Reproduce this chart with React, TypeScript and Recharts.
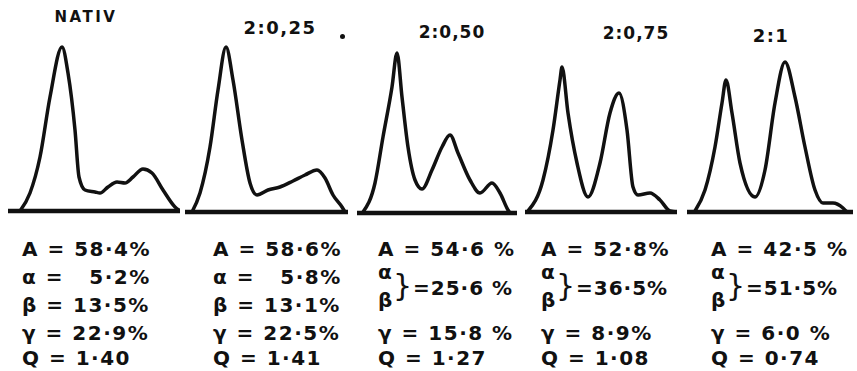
import { LineChart, Line, XAxis, YAxis, ReferenceLine } from "recharts";

// Densitometer curves, migration position (px from strip start) vs. optical density
const nativPos = [12, 22, 32, 42, 54, 60, 67, 71, 77, 87, 92, 100, 109, 117, 125, 135, 144, 155, 167, 172];
const nativDens = [0, 18, 54, 114, 164, 138, 81, 34, 21, 19, 18, 24, 29, 28, 34, 42, 38, 21, 4, 0];

const r025Pos = [7, 15, 25, 33, 41, 48, 57, 65, 72, 83, 95, 108, 120, 132, 140, 148, 157, 160];
const r025Dens = [0, 19, 65, 122, 165, 132, 72, 29, 17, 22, 25, 31, 37, 42, 34, 17, 5, 0];

const r050Pos = [6, 18, 26, 35, 40, 45, 51, 58, 65, 75, 85, 93, 101, 113, 123, 135, 143, 151, 153];
const r050Dens = [1, 30, 76, 126, 160, 116, 66, 33, 24, 43, 66, 78, 60, 33, 20, 30, 20, 3, 0];

const r075Pos = [3, 18, 28, 35, 37, 43, 52, 63, 75, 85, 94, 102, 108, 113, 125, 135, 145, 152];
const r075Dens = [1, 32, 82, 132, 145, 99, 49, 15, 49, 99, 119, 82, 25, 17, 19, 12, 1, 0];

const r1Pos = [8, 18, 28, 35, 39, 45, 53, 68, 78, 88, 98, 108, 118, 128, 136, 146, 156, 160];
const r1Dens = [1, 22, 65, 109, 132, 99, 49, 15, 42, 109, 150, 115, 65, 22, 9, 9, 4, 0];

const titles = ["NATIV", "2:0,25", "2:0,50", "2:0,75", "2:1"];
const albumin = ["58·4%", "58·6%", "54·6 %", "52·8%", "42·5 %"];
const alpha = ["5·2%", "5·8%", "", "", ""];
const beta = ["13·5%", "13·1%", "", "", ""];
const alphaBeta = ["", "", "25·6 %", "36·5%", "51·5%"];
const gamma = ["22·9%", "22·5%", "15·8 %", "8·9%", "6·0 %"];
const quotient = ["1·40", "1·41", "1·27", "1·08", "0·74"];

const curves = [
  [nativPos, nativDens],
  [r025Pos, r025Dens],
  [r050Pos, r050Dens],
  [r075Pos, r075Dens],
  [r1Pos, r1Dens],
].map(([xs, ys]) => xs.map((x, i) => ({ x, y: ys[i] })));

// layout only
const panels = [
  { left: 8, width: 172, base: 211, titleX: 86, titleY: 17, titleSize: 15, titleSpacing: 2.5, textX: 22 },
  { left: 185, width: 163, base: 212, titleX: 280, titleY: 28, titleSize: 18, titleSpacing: 1.5, textX: 213 },
  { left: 357, width: 160, base: 213, titleX: 452, titleY: 32, titleSize: 17, titleSpacing: 1, textX: 378 },
  { left: 525, width: 152, base: 212, titleX: 636, titleY: 33, titleSize: 17, titleSpacing: 1, textX: 541 },
  { left: 687, width: 166, base: 212, titleX: 771, titleY: 36, titleSize: 18, titleSpacing: 1.5, textX: 711 },
];

const H = 170;
const rowY = [249, 277, 305, 333, 358];
const font = "'DejaVu Sans', sans-serif";

const txt = (x: number, y: number, s: string, size = 20, extra = {}) => (
  <div
    style={{
      position: "absolute",
      left: x,
      top: y - size / 2,
      fontSize: size,
      fontWeight: 700,
      letterSpacing: 1.5,
      whiteSpace: "pre",
      lineHeight: 1,
      fontFamily: font,
      color: "#111",
      ...extra,
    }}
  >
    {s}
  </div>
);

export default function App() {
  return (
    <div style={{ position: "absolute", left: 0, top: 0, width: 857, height: 371, background: "#fff", overflow: "hidden" }}>
      {panels.map((p, i) => (
        <div key={i}>
          <div style={{ position: "absolute", left: p.left, top: p.base - H - 4 }}>
            <LineChart width={p.width} height={H + 8} data={curves[i]} margin={{ top: 4, right: 0, bottom: 4, left: 0 }}>
              <XAxis type="number" dataKey="x" domain={[0, p.width]} hide />
              <YAxis type="number" domain={[0, H]} hide />
              <ReferenceLine y={0} stroke="#111" strokeWidth={4.5} />
              <Line
                type="monotone"
                dataKey="y"
                stroke="#111"
                strokeWidth={3.5}
                dot={false}
                isAnimationActive={false}
              />
            </LineChart>
          </div>
          <div
            style={{
              position: "absolute",
              left: p.titleX - 60,
              width: 120,
              textAlign: "center",
              top: p.titleY - p.titleSize / 2,
              fontSize: p.titleSize,
              fontWeight: 700,
              letterSpacing: p.titleSpacing,
              lineHeight: 1,
              fontFamily: font,
              color: "#111",
            }}
          >
            {titles[i]}
          </div>
          {txt(p.textX, rowY[0], "A = " + albumin[i])}
          {alphaBeta[i] === "" ? (
            <>
              {txt(p.textX, rowY[1], "α =   " + alpha[i])}
              {txt(p.textX, rowY[2], "β = " + beta[i])}
            </>
          ) : (
            <>
              {txt(p.textX, rowY[1] - 5, "α")}
              {txt(p.textX, rowY[2] - 5, "β")}
              {txt(p.textX + 15, (rowY[1] + rowY[2]) / 2 - 5, "}", 30, { fontWeight: 400, letterSpacing: 0 })}
              {txt(p.textX + 35, (rowY[1] + rowY[2]) / 2 - 3, "=" + alphaBeta[i], 20, { letterSpacing: 1 })}
            </>
          )}
          {txt(p.textX, rowY[3], "γ = " + gamma[i])}
          {txt(p.textX, rowY[4], "Q = " + quotient[i])}
        </div>
      ))}
      <div style={{ position: "absolute", left: 340, top: 34, width: 5, height: 5, borderRadius: 3, background: "#111" }} />
    </div>
  );
}
